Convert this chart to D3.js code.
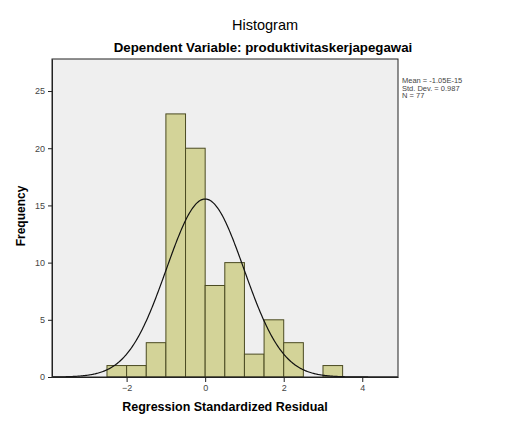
<!DOCTYPE html>
<html>
<head>
<meta charset="utf-8">
<script src="https://cdn.jsdelivr.net/npm/d3@7"></script>
<style>
  body { margin: 0; background: #fff; }
  text { font-family: Arial, "Liberation Sans", sans-serif; }
</style>
</head>
<body>
<svg width="517" height="421"></svg>
<script>
// bins of regression standardized residual (width 0.5)
const binStarts = [-2.5, -2, -1.5, -1, -0.5, 0, 0.5, 1, 1.5, 2, 3];
const counts = [1, 1, 3, 23, 20, 8, 10, 2, 5, 3, 1];
const binWidth = 0.5;
const xTicks = [-2, 0, 2, 4];
const yTicks = [0, 5, 10, 15, 20, 25];
const mean = 0, sd = 0.987, n = 77;
const statLines = ["Mean = -1.05E-15", "Std. Dev. = 0.987", "N = 77"];

const svg = d3.select("svg");
const pLeft = 52, pRight = 398, pTop = 59, pBottom = 377;

const x = d3.scaleLinear().domain([-3.9, 4.91]).range([pLeft, pRight]);
const y = d3.scaleLinear().domain([0, 27.8]).range([pBottom, pTop]);

// plot background
svg.append("rect")
    .attr("x", pLeft).attr("y", pTop)
    .attr("width", pRight - pLeft).attr("height", pBottom - pTop)
    .attr("fill", "#efefef");

// bars
svg.selectAll("rect.bar")
    .data(binStarts.map((s, i) => ({ s: s, c: counts[i] })))
    .enter().append("rect")
    .attr("class", "bar")
    .attr("x", d => x(d.s))
    .attr("y", d => y(d.c))
    .attr("width", d => x(d.s + binWidth) - x(d.s))
    .attr("height", d => y(0) - y(d.c))
    .attr("fill", "#d3d398")
    .attr("stroke", "#4b4b22")
    .attr("stroke-width", 1);

// normal curve
const curve = d3.range(-3.9, 4.91, 0.02).map(v => [v,
    n * binWidth * Math.exp(-0.5 * Math.pow((v - mean) / sd, 2)) / (sd * Math.sqrt(2 * Math.PI))]);
svg.append("path")
    .datum(curve)
    .attr("fill", "none")
    .attr("stroke", "#111")
    .attr("stroke-width", 1.2)
    .attr("d", d3.line().x(d => x(d[0])).y(d => y(d[1])));

// frame
svg.append("rect")
    .attr("x", pLeft).attr("y", pTop)
    .attr("width", pRight - pLeft).attr("height", pBottom - pTop)
    .attr("fill", "none")
    .attr("stroke", "#222")
    .attr("stroke-width", 1);

// axes
const xAxis = svg.append("g")
    .attr("transform", `translate(0,${pBottom})`)
    .call(d3.axisBottom(x).tickValues(xTicks).tickSize(5).tickSizeOuter(0));
const yAxis = svg.append("g")
    .attr("transform", `translate(${pLeft},0)`)
    .call(d3.axisLeft(y).tickValues(yTicks).tickSize(4).tickSizeOuter(0));
[xAxis, yAxis].forEach(g => {
    g.select(".domain").attr("stroke", "#222");
    g.selectAll("line").attr("stroke", "#222");
    g.selectAll("text").attr("fill", "#444").style("font-size", "9px");
});

// titles
svg.append("text")
    .attr("x", 265).attr("y", 30)
    .attr("text-anchor", "middle")
    .style("font-size", "14.5px")
    .text("Histogram");
svg.append("text")
    .attr("x", 263).attr("y", 52)
    .attr("text-anchor", "middle")
    .style("font-size", "13.3px").style("font-weight", "bold")
    .text("Dependent Variable: produktivitaskerjapegawai");
svg.append("text")
    .attr("x", 225).attr("y", 411)
    .attr("text-anchor", "middle")
    .style("font-size", "12.5px").style("font-weight", "bold")
    .text("Regression Standardized Residual");
svg.append("text")
    .attr("transform", "translate(25,216) rotate(-90)")
    .attr("text-anchor", "middle")
    .style("font-size", "12px").style("font-weight", "bold")
    .text("Frequency");

// stats
svg.selectAll("text.stat")
    .data(statLines)
    .enter().append("text")
    .attr("class", "stat")
    .attr("x", 402)
    .attr("y", (d, i) => 83 + i * 7.5)
    .style("font-size", "7.5px")
    .attr("fill", "#444")
    .text(d => d);
</script>
</body>
</html>
